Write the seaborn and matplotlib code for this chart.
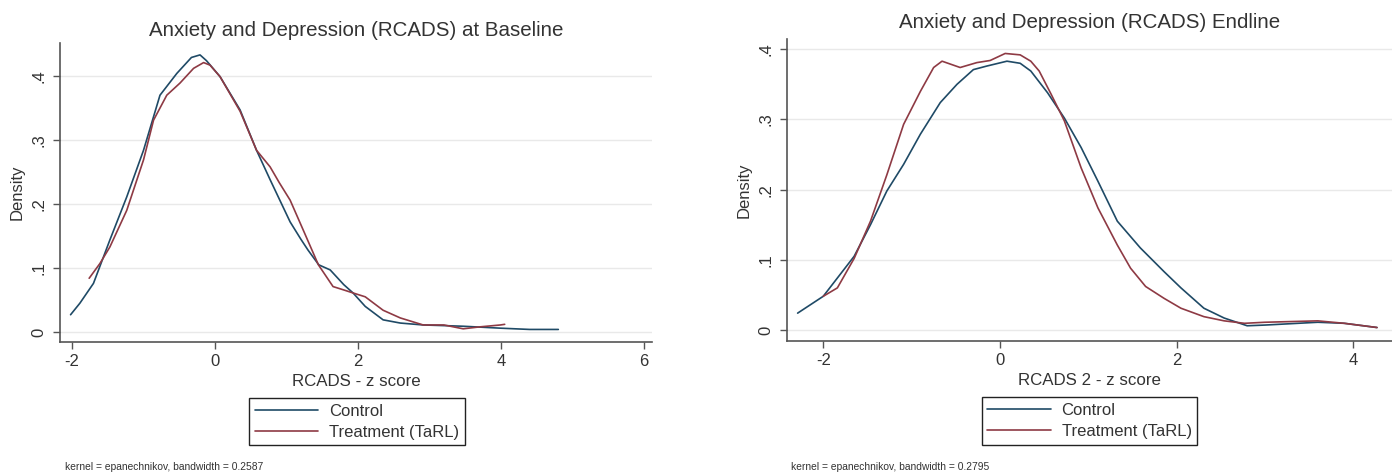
import seaborn as sns
import pandas as pd
import matplotlib.pyplot as plt

# --------------------- values ---------------------
groups = ["Control", "Treatment (TaRL)"]
colors = ["#1f4a66", "#8e3a44"]

# baseline panel
base_ctrl_x = [-2.02, -1.89, -1.7, -1.47, -1.235, -1.0, -0.77, -0.535, -0.33, -0.21, -0.12,
               0.07, 0.35, 0.58, 0.77, 1.05, 1.2, 1.3, 1.45, 1.61, 1.8, 1.93, 2.1, 2.35, 2.59,
               2.91, 3.2, 3.47, 3.99, 4.4, 4.8]
base_ctrl_y = [0.027, 0.045, 0.076, 0.144, 0.211, 0.284, 0.370, 0.404, 0.429, 0.433, 0.424,
               0.399, 0.347, 0.284, 0.238, 0.172, 0.145, 0.128, 0.105, 0.097, 0.074, 0.061,
               0.040, 0.019, 0.014, 0.011, 0.010, 0.009, 0.006, 0.004, 0.004]
base_trt_x = [-1.76, -1.61, -1.47, -1.235, -1.0, -0.86, -0.675, -0.49, -0.30, -0.16, -0.07,
              0.07, 0.35, 0.58, 0.77, 0.9, 1.05, 1.25, 1.445, 1.65, 1.82, 1.93, 2.1, 2.35,
              2.59, 2.91, 3.2, 3.47, 3.7, 3.99, 4.05]
base_trt_y = [0.084, 0.107, 0.133, 0.190, 0.269, 0.331, 0.370, 0.389, 0.412, 0.421, 0.417,
              0.399, 0.345, 0.284, 0.258, 0.233, 0.206, 0.155, 0.105, 0.071, 0.065, 0.061,
              0.055, 0.034, 0.022, 0.011, 0.011, 0.005, 0.008, 0.011, 0.012]

# endline panel
end_ctrl_x = [-2.29, -2.0, -1.65, -1.465, -1.28, -1.09, -0.9, -0.675, -0.486, -0.3, -0.15,
              0.08, 0.23, 0.35, 0.54, 0.73, 0.92, 1.11, 1.33, 1.59, 1.86, 2.05, 2.31, 2.54,
              2.8, 3.0, 3.3, 3.6, 3.9, 4.27]
end_ctrl_y = [0.024, 0.048, 0.105, 0.150, 0.198, 0.236, 0.279, 0.324, 0.350, 0.371, 0.376,
              0.383, 0.380, 0.369, 0.338, 0.302, 0.260, 0.212, 0.155, 0.117, 0.083, 0.060,
              0.031, 0.017, 0.006, 0.007, 0.009, 0.011, 0.0095, 0.0035]
end_trt_x = [-2.0, -1.84, -1.65, -1.465, -1.28, -1.09, -0.9, -0.75, -0.655, -0.45, -0.26,
             -0.11, 0.06, 0.23, 0.35, 0.445, 0.58, 0.73, 0.92, 1.11, 1.33, 1.48, 1.65, 1.86,
             2.05, 2.31, 2.54, 2.77, 3.0, 3.3, 3.6, 3.9, 4.27]
end_trt_y = [0.048, 0.060, 0.102, 0.155, 0.221, 0.293, 0.340, 0.374, 0.383, 0.374, 0.381,
             0.384, 0.394, 0.392, 0.383, 0.369, 0.336, 0.298, 0.231, 0.174, 0.121, 0.088,
             0.062, 0.045, 0.031, 0.019, 0.013, 0.0095, 0.011, 0.012, 0.013, 0.0095, 0.0035]

y_ticks = [0, 0.1, 0.2, 0.3, 0.4]
y_ticklabels = ["0", ".1", ".2", ".3", ".4"]
base_xticks = [-2, 0, 2, 4, 6]
end_xticks = [-2, 0, 2, 4]

titles = ["Anxiety and Depression (RCADS) at Baseline", "Anxiety and Depression (RCADS) Endline"]
xlabels = ["RCADS - z score", "RCADS 2 - z score"]
notes = ["kernel = epanechnikov, bandwidth = 0.2587", "kernel = epanechnikov, bandwidth = 0.2795"]


def make_df(cx, cy, tx, ty):
    return pd.concat([
        pd.DataFrame({"z": cx, "density": cy, "group": groups[0]}),
        pd.DataFrame({"z": tx, "density": ty, "group": groups[1]}),
    ], ignore_index=True)


sns.set_style("white")
plt.rcParams["font.family"] = ["Liberation Sans", "DejaVu Sans"]
text_col = "#333333"
axis_col = "#555555"

fig = plt.figure(figsize=(13.92, 4.74), dpi=100)
ax1 = fig.add_axes([0.0431, 0.2785, 0.4253, 0.6308])
ax2 = fig.add_axes([0.5654, 0.2806, 0.4346, 0.6371])

panels = [
    (ax1, make_df(base_ctrl_x, base_ctrl_y, base_trt_x, base_trt_y), base_xticks,
     (-2.168, 6.11), (-0.0156, 0.4516), 5, 0.502),
    (ax2, make_df(end_ctrl_x, end_ctrl_y, end_trt_x, end_trt_y), end_xticks,
     (-2.41, 4.44), (-0.0157, 0.4146), 8, 0.5),
]

for i, (ax, df, xt, xlim, ylim, tpad, lx) in enumerate(panels):
    ax.grid(axis="y", color="#e9e9e9", linewidth=1.0)
    sns.lineplot(data=df, x="z", y="density", hue="group", palette=colors,
                 estimator=None, sort=False, linewidth=1.2, ax=ax)
    ax.set_xlim(*xlim)
    ax.set_ylim(*ylim)
    ax.set_xticks(xt)
    ax.set_xticklabels([str(v) for v in xt])
    ax.set_yticks(y_ticks)
    ax.set_yticklabels(y_ticklabels)
    ax.tick_params(axis="y", labelrotation=90, pad=5)
    ax.tick_params(direction="out", length=5, width=1, color=axis_col,
                   labelcolor=text_col, labelsize=12, left=True, bottom=True)
    for lab in ax.get_yticklabels():
        lab.set_va("center")
    sns.despine(ax=ax)
    for s in ["left", "bottom"]:
        ax.spines[s].set_color(axis_col)
        ax.spines[s].set_linewidth(1.2)

    ax.set_title(titles[i], fontsize=14.8, color=text_col, pad=tpad)
    ax.set_xlabel(xlabels[i], fontsize=12.2, color=text_col, labelpad=4)
    ax.set_ylabel("Density", fontsize=12, color=text_col, labelpad=5)

    sns.move_legend(ax, "upper center", bbox_to_anchor=(lx, -0.187), title=None,
                    frameon=True, fancybox=False, edgecolor="#222222", framealpha=1,
                    fontsize=12, handlelength=3.8, handletextpad=0.65,
                    labelspacing=0.35, borderpad=0.35, borderaxespad=0)
    for t in ax.get_legend().get_texts():
        t.set_color(text_col)
    ax.get_legend().get_frame().set_linewidth(1.0)

fig.text(0.0467, 0.0148, notes[0], fontsize=7.4, color=text_col, va="center")
fig.text(0.568, 0.0148, notes[1], fontsize=7.4, color=text_col, va="center")

plt.savefig("out.png", dpi=100)
